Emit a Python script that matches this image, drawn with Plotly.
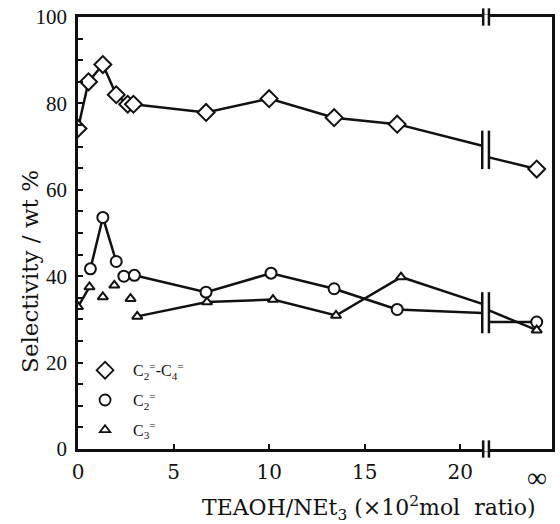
import plotly.graph_objects as go

# ---------------- data ----------------
x_c24 = [0, 0.55, 1.3, 2.0, 2.6, 2.9, 6.7, 10.0, 13.4, 16.7]
y_c24 = [74.2, 85.0, 89.0, 82.0, 79.8, 79.8, 77.9, 81.1, 76.7, 75.2]
inf_c24 = 64.8

x_c2 = [0.65, 1.3, 2.0, 2.4, 2.95, 6.7, 10.1, 13.4, 16.7]
y_c2 = [41.7, 53.6, 43.4, 40.0, 40.2, 36.3, 40.7, 37.1, 32.3]
inf_c2 = 29.4

x_c3 = [0, 0.6, 1.3, 1.9, 2.75, 3.1, 6.75, 10.2, 13.5, 16.9]
y_c3 = [32.9, 37.5, 35.2, 37.9, 34.8, 30.7, 34.0, 34.6, 30.9, 39.8]
inf_c3 = 27.5

# indices of points joined by the drawn line
line_idx_c24 = [list(range(10))]
line_idx_c2 = [[0, 1, 2], [4, 5, 6, 7, 8]]
line_idx_c3 = [[0, 1], [5, 6, 7, 8, 9]]

# values where the lines meet the axis break (left / right side)
brk_c24 = (70.2, 67.5)
brk_c2 = (31.5, 29.4)
brk_c3 = (33.6, 32.1)

X_INF = 24.0
BREAK_L, BREAK_R = 21.15, 21.5
FRAME_BREAK = 21.35
x_ticks = [0, 5, 10, 15, 20]
x_tick_text = ["0", "5", "10", "15", "20"]
y_ticks = [0, 20, 40, 60, 80, 100]

names = ["C<sub>2</sub><sup>=</sup>-C<sub>4</sub><sup>=</sup>",
         "C<sub>2</sub><sup>=</sup>",
         "C<sub>3</sub><sup>=</sup>"]

FONT = "Liberation Serif"
WFONT = "DejaVu Serif"
BLACK = "#111111"

fig = go.Figure()

series = [
    (x_c24, y_c24, inf_c24, line_idx_c24, brk_c24, "diamond", 13),
    (x_c2, y_c2, inf_c2, line_idx_c2, brk_c2, "circle", 11),
    (x_c3, y_c3, inf_c3, line_idx_c3, brk_c3, "triangle-up", 9),
]

for (xs, ys, yinf, idxs, brk, sym, size) in series:
    lx, ly = [], []
    for seg in idxs:
        for i in seg:
            lx.append(xs[i]); ly.append(ys[i])
        lx.append(None); ly.append(None)
    lx += [xs[-1], BREAK_L, None, BREAK_R, X_INF]
    ly += [ys[-1], brk[0], None, brk[1], yinf]
    fig.add_trace(go.Scatter(x=lx, y=ly, mode="lines",
                             line=dict(color=BLACK, width=2.5),
                             showlegend=False, hoverinfo="skip"))
    fig.add_trace(go.Scatter(x=xs + [X_INF], y=ys + [yinf], mode="markers",
                             marker=dict(symbol=sym, size=size, color="white",
                                         line=dict(color=BLACK, width=2)),
                             showlegend=False))

# legend-only traces
for name, (_, _, _, _, _, sym, size) in zip(names, series):
    fig.add_trace(go.Scatter(x=[None], y=[None], mode="markers", name=name,
                             legendgroup=name,
                             marker=dict(symbol=sym, size=size, color="white",
                                         line=dict(color=BLACK, width=1.8))))

shapes = []
for yp in (0, 1):
    shapes.append(dict(type="rect", xref="x", yref="paper",
                       x0=FRAME_BREAK - 0.12, x1=FRAME_BREAK + 0.12,
                       y0=yp - 0.006, y1=yp + 0.006,
                       fillcolor="white", line=dict(width=0), layer="above"))
    for dx in (-0.15, 0.15):
        shapes.append(dict(type="line", xref="x", yref="paper",
                           x0=FRAME_BREAK + dx, x1=FRAME_BREAK + dx,
                           y0=yp - 0.02, y1=yp + 0.02,
                           line=dict(color=BLACK, width=2.5), layer="above"))
for (y0, y1) in ((64.8, 73.7), (26.8, 36.3)):
    for xb in (BREAK_L, BREAK_R):
        shapes.append(dict(type="line", xref="x", yref="y",
                           x0=xb, x1=xb, y0=y0, y1=y1,
                           line=dict(color=BLACK, width=2.5)))

annotations = [
    dict(text="∞", xref="x", yref="paper", x=X_INF, y=0, yshift=-46, xshift=0,
         showarrow=False, font=dict(family=FONT, size=28, color=BLACK)),
    dict(text="TEAOH/NEt<sub>3</sub> (×10<sup>2</sup>mol  ratio)",
         xref="paper", yref="paper", x=0.613, y=0, yshift=-59,
         xanchor="center", yanchor="middle",
         showarrow=False, font=dict(family=WFONT, size=22, color=BLACK)),
    dict(text="Selectivity / wt %", textangle=-90,
         xref="paper", yref="paper", x=0, y=0.41, xshift=-48,
         xanchor="center", yanchor="middle",
         showarrow=False, font=dict(family=WFONT, size=23, color=BLACK)),
]

fig.update_layout(
    width=560, height=524,
    margin=dict(l=78, r=5, t=16, b=75),
    paper_bgcolor="white", plot_bgcolor="white",
    font=dict(family=FONT, color=BLACK),
    shapes=shapes, annotations=annotations,
    legend=dict(x=-0.002, y=0.2215, xanchor="left", yanchor="top",
                bgcolor="rgba(0,0,0,0)", font=dict(family=FONT, size=16),
                tracegroupgap=6, itemwidth=46),
    xaxis=dict(range=[0, 24.8], tickvals=x_ticks, ticktext=x_tick_text,
               ticks="inside", ticklen=5, tickwidth=2, tickcolor=BLACK,
               ticklabelstandoff=3,
               showline=True, linewidth=2.5, linecolor=BLACK, mirror=True,
               showgrid=False, zeroline=False,
               tickfont=dict(family=WFONT, size=20)),
    yaxis=dict(range=[0, 100], tickvals=y_ticks,
               ticks="inside", ticklen=5, tickwidth=2, tickcolor=BLACK,
               ticklabelstandoff=4,
               minor=dict(dtick=5, ticks="inside", ticklen=5, tickwidth=2,
                          tickcolor=BLACK, showgrid=False),
               showline=True, linewidth=2.5, linecolor=BLACK, mirror=True,
               showgrid=False, zeroline=False,
               tickfont=dict(family=FONT, size=21)),
)

fig.write_html("out.html",
               config={"displayModeBar": False},
               post_script="document.body.style.margin='0';"
                           "document.body.style.overflow='hidden';")
